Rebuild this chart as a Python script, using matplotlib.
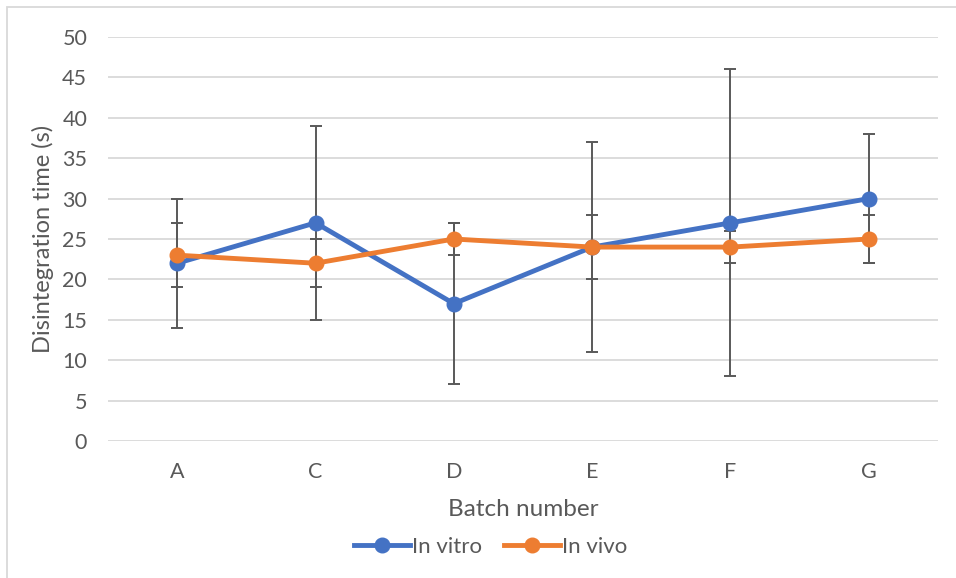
import matplotlib
matplotlib.use("Agg")
import matplotlib.pyplot as plt
from matplotlib.patches import Rectangle
from matplotlib.lines import Line2D

plt.rcParams['font.family'] = ['Lato', 'DejaVu Sans']

categories = ["A", "C", "D", "E", "F", "G"]
in_vitro = [22, 27, 17, 24, 27, 30]
in_vitro_err = [8, 12, 10, 13, 19, 8]
in_vivo = [23, 22, 25, 24, 24, 25]
in_vivo_err = [4, 3, 2, 4, 2, 3]
yticks = [0, 5, 10, 15, 20, 25, 30, 35, 40, 45, 50]

BLUE = "#4472C4"
ORANGE = "#ED7D31"
TXT = "#595959"
GRID = "#D9D9D9"

fig = plt.figure(figsize=(9.56, 5.78), dpi=100)
ax = fig.add_axes([108/956, 1-441/578, 830/956, 404/578])

x = list(range(len(categories)))
ax.errorbar(x, in_vitro, yerr=in_vitro_err, fmt='none', ecolor=TXT,
            elinewidth=1.4, capsize=4.3, capthick=1.4, zorder=2)
ax.errorbar(x, in_vivo, yerr=in_vivo_err, fmt='none', ecolor=TXT,
            elinewidth=1.4, capsize=4.3, capthick=1.4, zorder=2)
ax.plot(x, in_vitro, color=BLUE, lw=3.5, marker='o', ms=10.5,
        solid_capstyle='round', zorder=3, label="In vitro")
ax.plot(x, in_vivo, color=ORANGE, lw=3.5, marker='o', ms=10.5,
        solid_capstyle='round', zorder=4, label="In vivo")

ax.set_xlim(-0.5, len(categories) - 0.5)
ax.set_ylim(0, 50)
ax.set_yticks(yticks)
ax.set_xticks(x)
ax.set_xticklabels(categories)
ax.yaxis.grid(True, color=GRID, lw=1.3)
ax.set_axisbelow(True)
for s in ax.spines.values():
    s.set_visible(False)
ax.tick_params(axis='both', length=0, labelsize=15.5, labelcolor=TXT)
ax.tick_params(axis='y', pad=15)
ax.tick_params(axis='x', pad=15)

ax.set_ylabel("Disintegration time (s)", fontsize=17, color=TXT, labelpad=6)
fig.text(523/956, 1-510/578, "Batch number", ha='center', va='center',
         fontsize=17.5, color=TXT)

handles = [Line2D([], [], color=BLUE, lw=3.5, marker='o', ms=10.5),
           Line2D([], [], color=ORANGE, lw=3.5, marker='o', ms=10.5)]
fig.legend(handles, ["In vitro", "In vivo"], loc='center',
           bbox_to_anchor=(491/956, 1-547/578), ncol=2, frameon=False,
           fontsize=16, labelcolor=TXT, handlelength=2.5, handletextpad=0.1,
           columnspacing=1.0)

fig.patches.append(Rectangle((7/956, -0.1), 1.2, 1 - 7/578 + 0.1,
                             transform=fig.transFigure, fill=False,
                             edgecolor=GRID, lw=1.3, clip_on=False))

fig.savefig("out.png", dpi=100, facecolor='white')
